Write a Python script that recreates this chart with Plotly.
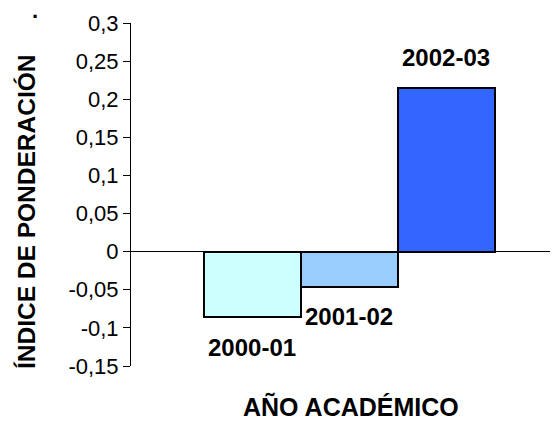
import plotly.graph_objects as go

years = ["2000-01", "2001-02", "2002-03"]
values = [-0.086, -0.046, 0.215]
colors = ["#CCFFFF", "#99CCFF", "#3366FF"]
tick_vals = [-0.15, -0.1, -0.05, 0, 0.05, 0.1, 0.15, 0.2, 0.25, 0.3]
tick_text = ["-0,15", "-0,1", "-0,05", "0", "0,05", "0,1", "0,15", "0,2", "0,25", "0,3"]
y_title = "ÍNDICE DE PONDERACIÓN"
x_title = "AÑO ACADÉMICO"

FONT = "Arial, Liberation Sans, sans-serif"

fig = go.Figure()
fig.add_trace(go.Bar(
    x=years, y=values,
    marker=dict(color=colors, line=dict(color="black", width=2)),
    width=1.0,
    hoverinfo="skip",
))

annotations = []
for yr, v in zip(years, values):
    annotations.append(dict(
        x=yr, y=v, xref="x", yref="y", text=f"<b>{yr}</b>", showarrow=False,
        yanchor="middle", xanchor="center", yshift=30 if v > 0 else -30,
        font=dict(family=FONT, size=24, color="black"),
    ))
annotations.append(dict(
    x=0, y=0, xref="paper", yref="paper", text=f"<b>{y_title}</b>", showarrow=False,
    textangle=-90, xanchor="center", yanchor="middle", xshift=-105, yshift=154,
    font=dict(family=FONT, size=24.5, color="black"),
))
annotations.append(dict(
    x=0.5, y=0, xref="paper", yref="paper", text=f"<b>{x_title}</b>", showarrow=False,
    xanchor="center", yanchor="middle", xshift=7, yshift=-40,
    font=dict(family=FONT, size=25, color="black"),
))
annotations.append(dict(
    x=0, y=1, xref="paper", yref="paper", text="<b>.</b>", showarrow=False,
    xanchor="center", yanchor="bottom", xshift=-96, yshift=-2,
    font=dict(family=FONT, size=22, color="black"),
))

fig.update_layout(
    width=550, height=415,
    margin=dict(l=123, r=1, t=15, b=57, pad=0),
    paper_bgcolor="white", plot_bgcolor="white",
    showlegend=False,
    bargap=0,
    annotations=annotations,
    font=dict(family=FONT, size=22, color="black"),
    xaxis=dict(
        type="category", range=[-1.25, 3.14],
        showticklabels=False, showline=False, showgrid=False, zeroline=False, ticks="",
    ),
    yaxis=dict(
        range=[-0.15, 0.3], tickvals=tick_vals, ticktext=tick_text,
        showline=True, linecolor="black", linewidth=1,
        ticks="outside", ticklen=7, tickcolor="black", tickwidth=1,
        showgrid=False, zeroline=True, zerolinecolor="black", zerolinewidth=1,
        tickfont=dict(family=FONT, size=22, color="black"),
    ),
)

fig.write_html("out.html")
